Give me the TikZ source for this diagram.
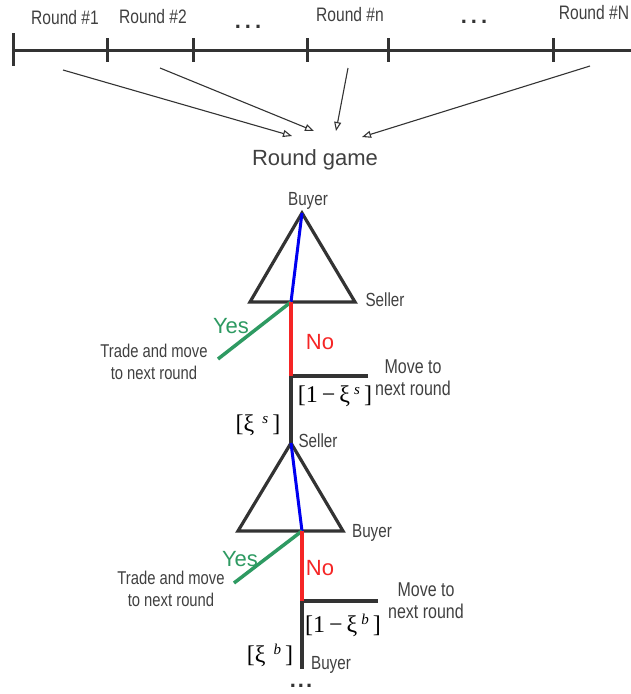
\documentclass[tikz,border=0pt]{standalone}
\usepackage{fontspec}
\setmainfont{Liberation Sans}
\newfontfamily\nar[FakeStretch=0.8]{Liberation Sans}
\newfontfamily\tms{Liberation Serif}
\usetikzlibrary{arrows.meta}
\definecolor{dk}{HTML}{333333}
\definecolor{txt}{HTML}{404040}
\definecolor{yesg}{HTML}{2E9A62}
\definecolor{nor}{HTML}{F52525}
\definecolor{bl}{HTML}{0000F0}
\tikzset{
  lbl/.style={inner sep=0pt, text=txt, font=\nar\fontsize{19}{22}\selectfont},
  rlbl/.style={lbl, font=\nar\fontsize{19.5}{22}\selectfont},
  two/.style={lbl, align=center, font=\nar\fontsize{18.5}{22}\selectfont},
  mv/.style={lbl, align=center, font=\nar\fontsize{20}{22}\selectfont},
  dots/.style={inner sep=0pt, text=dk, font=\bfseries\fontsize{22}{22}\selectfont},
  mth/.style={inner sep=0pt, text=black, font=\tms\fontsize{24}{26}\selectfont},
  yesl/.style={inner sep=0pt, text=yesg, font=\fontsize{22}{24}\selectfont},
  nol/.style={inner sep=0pt, text=nor, font=\fontsize{22}{24}\selectfont},
  axis/.style={draw=dk, line width=3pt},
  tick/.style={draw=dk, line width=3pt},
  arr/.style={draw=dk, line width=1.1pt, -{Triangle[open,length=9pt,width=7pt]}},
  tri/.style={draw=dk, line width=3.2pt, line join=miter},
  gl/.style={draw=dk, line width=3.2pt},
  bline/.style={draw=bl, line width=3pt},
  rline/.style={draw=nor, line width=3.2pt},
  gline/.style={draw=yesg, line width=3.5pt},
}
\begin{document}
\begin{tikzpicture}[x=1pt,y=-1pt]
\useasboundingbox (0,0) rectangle (631,694);
% timeline
\coordinate (t0) at (13,50);
\coordinate (tE) at (631,50);
\draw[axis] (t0) -- (tE);
\draw[tick] (13,33) -- (13,66);
\foreach \x in {107,193,307,388,553} \draw[tick] (\x,38) -- (\x,62);
\node[rlbl] (r1) at (65,18) {Round \#1};
\node[rlbl] (r2) at (153,17) {Round \#2};
\node[dots] (d1) at (248,27) {.\kern4pt.\kern4pt.};
\node[rlbl] (rn) at (350,15) {Round \#n};
\node[dots] (d2) at (474,22) {.\kern4pt.\kern4pt.};
\node[rlbl] (rN) at (594,13) {Round \#N};
% arrows
\coordinate (a1s) at (63,70);  \coordinate (a1e) at (292,136);
\coordinate (a2s) at (160,68); \coordinate (a2e) at (314,131);
\coordinate (a3s) at (348,68); \coordinate (a3e) at (336,131);
\coordinate (a4s) at (590,66); \coordinate (a4e) at (362,137);
\draw[arr] (a1s) -- (a1e);
\draw[arr] (a2s) -- (a2e);
\draw[arr] (a3s) -- (a3e);
\draw[arr] (a4s) -- (a4e);
\node[inner sep=0pt, text=txt, font=\fontsize{22}{24}\selectfont] (rg) at (315,160) {Round game};
% first stage
\coordinate (A1) at (302,213);
\coordinate (L1) at (250,302);
\coordinate (R1) at (355,302);
\coordinate (M1) at (291,302);
\coordinate (Y1) at (218,359);
\coordinate (N1) at (291,376);
\coordinate (H1) at (368,376);
\draw[tri] (A1) -- (L1) -- (R1) -- cycle;
\draw[bline] (A1) -- (M1);
\draw[gline] (M1) -- (Y1);
\draw[gl] (H1) -- (N1) -- (291,444);
\draw[rline] (M1) -- (N1);
\node[lbl] (b1) at (308,201) {Buyer};
\node[lbl] (s1) at (385,300) {Seller};
\node[yesl] (yes1) at (231,326) {Yes};
\node[nol] (no1) at (320,342) {No};
\node[two] (tr1) at (154,362) {Trade and move\\to next round};
\node[mv] (mv1) at (413,378) {Move to\\next round};
\node[mth] (p1) at (335,396) {[1\,−\,ξ\,\raisebox{8pt}{\fontsize{15}{15}\selectfont\itshape s}\,]};
\node[mth] (q1) at (258,425) {[ξ\,\,\raisebox{8pt}{\fontsize{15}{15}\selectfont\itshape s}\,]};
\node[lbl] (s2) at (318,441) {Seller};
% second stage
\coordinate (A2) at (291,443);
\coordinate (L2) at (238,531);
\coordinate (R2) at (343,531);
\coordinate (M2) at (302,531);
\coordinate (Y2) at (234,583);
\coordinate (N2) at (302,601);
\coordinate (H2) at (378,601);
\draw[tri] (A2) -- (L2) -- (R2) -- cycle;
\draw[bline] (A2) -- (M2);
\draw[gline] (M2) -- (Y2);
\draw[gl] (H2) -- (N2) -- (302,669);
\draw[rline] (M2) -- (N2);
\node[lbl] (b2) at (372,533) {Buyer};
\node[yesl] (yes2) at (240,559) {Yes};
\node[nol] (no2) at (320,568) {No};
\node[two] (tr2) at (171,589) {Trade and move\\to next round};
\node[mv] (mv2) at (426,601) {Move to\\next round};
\node[mth] (p2) at (343,625) {[1\,−\,ξ\,\raisebox{8pt}{\fontsize{15}{15}\selectfont\itshape b}\,]};
\node[mth] (q2) at (270,655) {[ξ\,\,\raisebox{8pt}{\fontsize{15}{15}\selectfont\itshape b}\,]};
\node[lbl] (b3) at (331,665) {Buyer};
\node[dots] (d3) at (301,686) {.\kern2pt.\kern2pt.};
\end{tikzpicture}
\end{document}
